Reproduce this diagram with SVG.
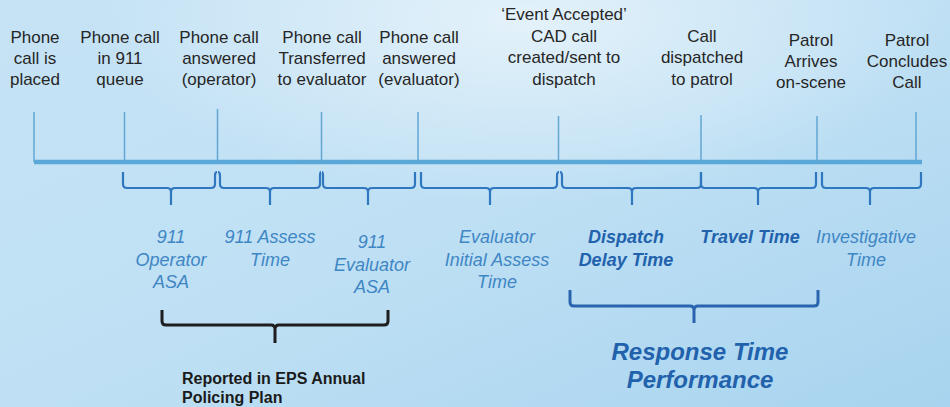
<svg xmlns="http://www.w3.org/2000/svg" width="950" height="407" viewBox="0 0 950 407">
<defs>
<linearGradient id="bg" x1="0" y1="0" x2="1" y2="1">
<stop offset="0" stop-color="#c6e3f5"/>
<stop offset="0.5" stop-color="#bfe0f4"/>
<stop offset="1" stop-color="#a8d4ef"/>
</linearGradient>
<radialGradient id="hl" cx="0.55" cy="0.05" r="0.45">
<stop offset="0" stop-color="#ffffff" stop-opacity="0.55"/>
<stop offset="1" stop-color="#ffffff" stop-opacity="0"/>
</radialGradient>
<style>
.ev{font-family:"Liberation Sans",Arial,sans-serif;font-size:17px;fill:#262626;text-anchor:middle}
.tick{stroke:#62a6d4;stroke-width:1.5}
.it{font-family:"Liberation Sans",Arial,sans-serif;font-size:18px;font-style:italic;fill:#3f86c4;text-anchor:middle}
.itb{font-family:"Liberation Sans",Arial,sans-serif;font-size:18px;font-style:italic;font-weight:bold;fill:#2262ad;text-anchor:middle}
.br{fill:none;stroke:#2f78bf;stroke-width:2.2;stroke-linejoin:round}
.bigk{fill:none;stroke:#1e1e1e;stroke-width:3}
.bigb{fill:none;stroke:#2a64ae;stroke-width:3}
.rep{font-family:"Liberation Sans",Arial,sans-serif;font-size:16px;font-weight:bold;fill:#1a1a1a}
.resp{font-family:"Liberation Sans",Arial,sans-serif;font-size:24px;font-style:italic;font-weight:bold;fill:#2262ad;text-anchor:middle}
</style>
</defs>
<rect width="950" height="407" fill="url(#bg)"/>
<rect width="950" height="407" fill="url(#hl)"/>

<line x1="34" y1="162" x2="922" y2="162" stroke="#5aa8d8" stroke-width="4.5"/>

<g id="e1"><line class="tick" x1="34" y1="112" x2="34" y2="162"/><text class="ev" x="35"><tspan x="35" y="43">Phone</tspan><tspan x="35" y="64">call is</tspan><tspan x="35" y="85">placed</tspan></text></g>
<g id="e2"><line class="tick" x1="124.5" y1="112" x2="124.5" y2="162"/><text class="ev"><tspan x="120" y="43">Phone call</tspan><tspan x="120" y="64">in 911</tspan><tspan x="120" y="85">queue</tspan></text></g>
<g id="e3"><line class="tick" x1="217.5" y1="109" x2="217.5" y2="162"/><text class="ev"><tspan x="219" y="43">Phone call</tspan><tspan x="219" y="64">answered</tspan><tspan x="219" y="85">(operator)</tspan></text></g>
<g id="e4"><line class="tick" x1="321.5" y1="112" x2="321.5" y2="162"/><text class="ev"><tspan x="322" y="43">Phone call</tspan><tspan x="322" y="64">Transferred</tspan><tspan x="322" y="85">to evaluator</tspan></text></g>
<g id="e5"><line class="tick" x1="418" y1="112" x2="418" y2="162"/><text class="ev"><tspan x="419" y="43">Phone call</tspan><tspan x="419" y="64">answered</tspan><tspan x="419" y="85">(evaluator)</tspan></text></g>
<g id="e6"><line class="tick" x1="558.5" y1="116" x2="558.5" y2="162"/><text class="ev"><tspan x="564" y="20">‘Event Accepted’</tspan><tspan x="564" y="42">CAD call</tspan><tspan x="564" y="63">created/sent to</tspan><tspan x="564" y="85">dispatch</tspan></text></g>
<g id="e7"><line class="tick" x1="701" y1="115" x2="701" y2="162"/><text class="ev"><tspan x="702" y="42">Call</tspan><tspan x="702" y="63">dispatched</tspan><tspan x="702" y="85">to patrol</tspan></text></g>
<g id="e8"><line class="tick" x1="817" y1="116" x2="817" y2="162"/><text class="ev"><tspan x="811" y="46">Patrol</tspan><tspan x="811" y="67">Arrives</tspan><tspan x="811" y="88">on-scene</tspan></text></g>
<g id="e9"><line class="tick" x1="916" y1="112" x2="916" y2="162"/><text class="ev"><tspan x="907" y="46">Patrol</tspan><tspan x="907" y="67">Concludes</tspan><tspan x="907" y="88">Call</tspan></text></g>

<g id="connectors">
<path class="br" d="M123,172 V184 Q123,188 127,188 H167 Q171,188 171,192 V205 M171,192 Q171,188 175,188 H211 Q215,188 215,184 V176 Q215,172 217,172"/>
<path class="br" d="M218,172 Q220,172 220,176 V184 Q220,188 224,188 H266 Q270,188 270,192 V205 M270,192 Q270,188 274,188 H316 Q320,188 320,184 V176 Q320,172 321,172"/>
<path class="br" d="M322,172 Q323,172 323,176 V184 Q323,188 327,188 H364 Q368,188 368,192 V205 M368,192 Q368,188 372,188 H411 Q415,188 415,184 V172"/>
<path class="br" d="M421,172 V184 Q421,188 425,188 H486 Q490,188 490,192 V205 M490,192 Q490,188 494,188 H553 Q557,188 557,184 V176 Q557,172 559,172"/>
<path class="br" d="M560,172 Q562,172 562,176 V184 Q562,188 566,188 H628 Q632,188 632,192 V205 M632,192 Q632,188 636,188 H697 Q701,188 701,184 V172"/>
<path class="br" d="M701,172 V184 Q701,188 705,188 H754 Q758,188 758,192 V205 M758,192 Q758,188 762,188 H812 Q816,188 816,184 V172"/>
<path class="br" d="M822,172 V184 Q822,188 826,188 H866 Q870,188 870,192 V205 M870,192 Q870,188 874,188 H917 Q921,188 921,184 V172"/>
<path class="bigk" d="M162,310 V321 Q162,325 166,325 H271 Q275,325 275,329 V343 M275,329 Q275,325 279,325 H384 Q388,325 388,321 V310"/>
<path class="bigb" d="M570,290 V302 Q570,306 574,306 H690 Q694,306 694,310 V323 M694,310 Q694,306 698,306 H814 Q818,306 818,302 V290"/>
</g>

<g id="seg-labels">
<text class="it"><tspan x="171" y="243">911</tspan><tspan x="171" y="266">Operator</tspan><tspan x="171" y="288">ASA</tspan></text>
<text class="it"><tspan x="270" y="243">911 Assess</tspan><tspan x="270" y="266">Time</tspan></text>
<text class="it"><tspan x="372" y="248">911</tspan><tspan x="372" y="271">Evaluator</tspan><tspan x="372" y="293">ASA</tspan></text>
<text class="it"><tspan x="497" y="243">Evaluator</tspan><tspan x="497" y="266">Initial Assess</tspan><tspan x="497" y="288">Time</tspan></text>
<text class="itb"><tspan x="626" y="243">Dispatch</tspan><tspan x="626" y="266">Delay Time</tspan></text>
<text class="itb"><tspan x="750" y="243">Travel Time</tspan></text>
<text class="it"><tspan x="866" y="243">Investigative</tspan><tspan x="866" y="266">Time</tspan></text>
</g>

<g id="reported"><text class="rep"><tspan x="182" y="384">Reported in EPS Annual</tspan><tspan x="182" y="403">Policing Plan</tspan></text></g>
<g id="response"><text class="resp"><tspan x="700" y="360">Response Time</tspan><tspan x="700" y="388">Performance</tspan></text></g>
</svg>
